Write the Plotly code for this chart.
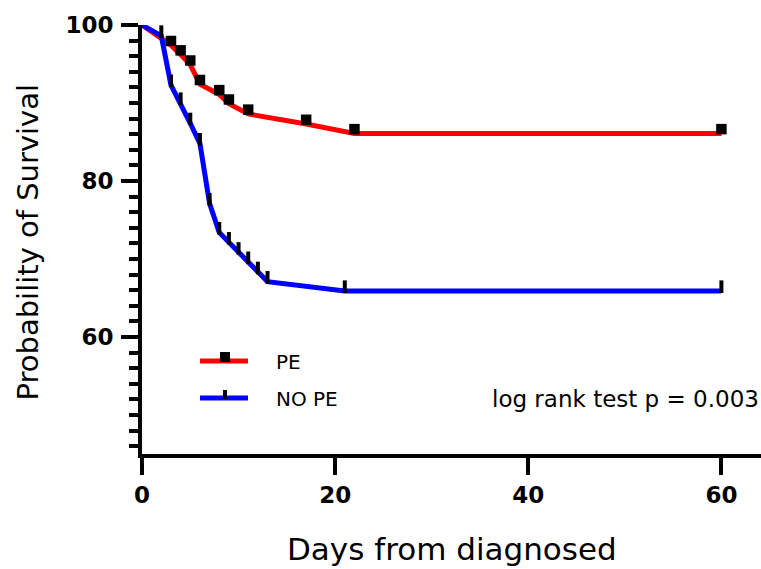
import plotly.graph_objects as go

# ---- data ----
pe_days = [0, 3, 4, 5, 6, 8, 9, 11, 17, 22, 60]
pe_surv = [100, 97.4, 96.2, 94.9, 92.4, 91.1, 89.9, 88.6, 87.3, 86.1, 86.1]

nope_days = [0, 2, 3, 4, 5, 6, 7, 8, 9, 10, 11, 12, 13, 21, 60]
nope_surv = [100, 98.6, 92.3, 90.0, 87.4, 84.8, 77.1, 73.4, 72.1, 70.8, 69.6, 68.3, 67.1, 65.9, 65.9]

x_ticks = [0, 20, 40, 60]
y_ticks = [60, 80, 100]
series_names = ["PE", "NO PE"]
p_text = "log rank test p = 0.003"

# ---- style ----
RED = "#FF0000"
BLUE = "#0000FF"
FONT = "DejaVu Sans"
Y_RANGE = [45, 100]
X_RANGE = [0, 64.1]
MARK_LIFT = 0.55  # censor marks sit on top of the curve

fig = go.Figure()
fig.add_trace(go.Scatter(x=pe_days, y=pe_surv, mode="lines", name=series_names[0],
                         line=dict(color=RED, width=5), cliponaxis=False, showlegend=False))
fig.add_trace(go.Scatter(x=nope_days, y=nope_surv, mode="lines", name=series_names[1],
                         line=dict(color=BLUE, width=5), cliponaxis=False, showlegend=False))
# censor marks (on a lifted overlay axis)
fig.add_trace(go.Scatter(x=pe_days[1:], y=pe_surv[1:], mode="markers", yaxis="y2",
                         marker=dict(symbol="square", size=10.5, color="black"),
                         cliponaxis=False, showlegend=False))
fig.add_trace(go.Scatter(x=nope_days[1:], y=nope_surv[1:], mode="markers", yaxis="y2",
                         marker=dict(symbol="line-ns", size=9, line=dict(width=4, color="black")),
                         cliponaxis=False, showlegend=False))

W, H = 761, 569
L, R, T, B = 142, 0, 25, 115
pw, ph = W - L - R, H - T - B

def px(xp):
    return (xp - L) / pw

def py(yp):
    return (H - B - yp) / ph

tickfont = dict(family=FONT, size=23, color="black", weight="bold")

fig.update_layout(
    width=W, height=H, margin=dict(l=L, r=R, t=T, b=B, autoexpand=False),
    paper_bgcolor="white", plot_bgcolor="white",
    xaxis=dict(range=X_RANGE, tickvals=x_ticks, ticktext=[str(v) for v in x_ticks],
               showline=True, linewidth=4, linecolor="black", ticks="outside",
               ticklen=17, tickwidth=4, tickcolor="black", showgrid=False, zeroline=False,
               tickfont=tickfont),
    yaxis=dict(range=Y_RANGE, tickvals=y_ticks, ticktext=[str(v) for v in y_ticks],
               showline=True, linewidth=4, linecolor="black", ticks="outside",
               ticklen=17, tickwidth=4, tickcolor="black", showgrid=False, zeroline=False,
               tickfont=tickfont, ticklabelstandoff=3,
               minor=dict(tickvals=list(range(46, 100, 2)), ticks="outside", ticklen=9,
                          tickwidth=3.5, tickcolor="black", showgrid=False)),
    yaxis2=dict(range=[Y_RANGE[0] - MARK_LIFT, Y_RANGE[1] - MARK_LIFT], overlaying="y",
                anchor="x", visible=False),
    showlegend=False,
)

annotations = [
    dict(text="Probability of Survival", xref="paper", yref="paper", x=0, y=0.5,
         xshift=-115, yshift=-3, textangle=-90, showarrow=False,
         font=dict(family=FONT, size=29, color="black"), xanchor="center", yanchor="middle"),
    dict(text="Days from diagnosed", xref="paper", yref="paper", x=0.5, y=0,
         yshift=-95, showarrow=False, font=dict(family=FONT, size=31, color="black"),
         xanchor="center", yanchor="middle"),
    dict(text=series_names[0], xref="paper", yref="paper", x=px(274), y=py(362),
         showarrow=False, font=dict(family=FONT, size=20, color="black"),
         xanchor="left", yanchor="middle"),
    dict(text=series_names[1], xref="paper", yref="paper", x=px(274), y=py(399),
         showarrow=False, font=dict(family=FONT, size=20, color="black"),
         xanchor="left", yanchor="middle"),
    dict(text=p_text, xref="paper", yref="paper", x=px(761), y=py(399),
         showarrow=False, font=dict(family=FONT, size=23, color="black"),
         xanchor="right", yanchor="middle"),
]
fig.update_layout(annotations=annotations)

shapes = [
    # legend lines
    dict(type="line", xref="paper", yref="paper", x0=px(200), x1=px(248), y0=py(361), y1=py(361),
         line=dict(color=RED, width=5)),
    dict(type="line", xref="paper", yref="paper", x0=px(200), x1=px(248), y0=py(398), y1=py(398),
         line=dict(color=BLUE, width=5)),
    # legend symbols
    dict(type="rect", xref="paper", yref="paper", x0=px(220), x1=px(230), y0=py(362), y1=py(352),
         fillcolor="black", line=dict(width=0)),
    dict(type="line", xref="paper", yref="paper", x0=px(225), x1=px(225), y0=py(399), y1=py(390),
         line=dict(color="black", width=4)),
]
fig.update_layout(shapes=shapes)

fig.write_html("out.html", config={"displayModeBar": False},
               post_script="document.body.style.margin='0px';"
               "document.body.style.overflow='hidden';")
